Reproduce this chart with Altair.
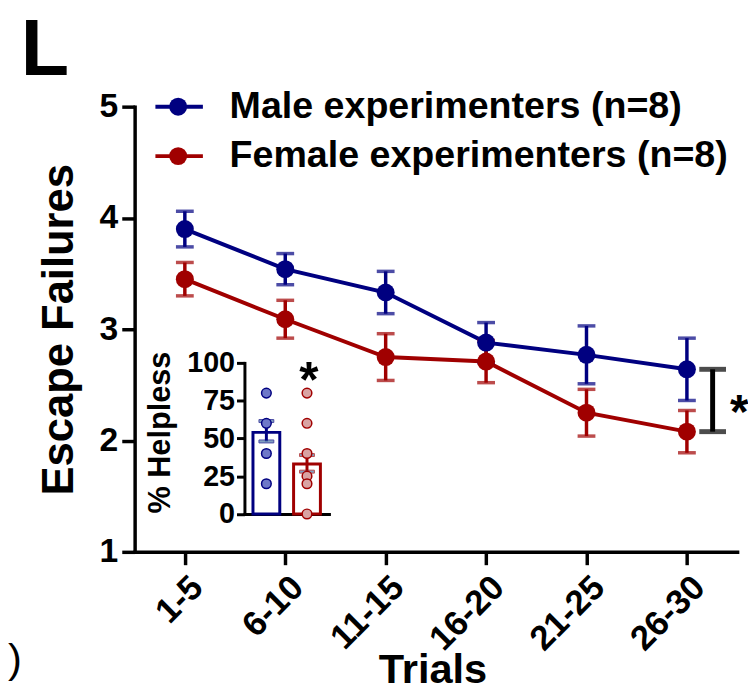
import altair as alt
import pandas as pd

# ---------------- data ----------------
trials = ["1-5", "6-10", "11-15", "16-20", "21-25", "26-30"]
series = ["Male experimenters (n=8)", "Female experimenters (n=8)"]
colors = ["#000080", "#A00000"]

male_mean = [3.90, 3.54, 3.33, 2.88, 2.77, 2.64]
male_sem = [0.16, 0.14, 0.19, 0.18, 0.26, 0.28]
female_mean = [3.45, 3.09, 2.75, 2.71, 2.25, 2.08]
female_sem = [0.15, 0.17, 0.21, 0.19, 0.21, 0.19]

groups = ["Male", "Female"]
helpless_mean = [54, 33]
helpless_lo = [48, 28]
helpless_hi = [61.5, 39]
male_dots = [80, 60, 40, 20]
female_dots = [80, 60, 40, 25, 20, 0]
dot_fills = ["#6E78C8", "#D9A3A3"]

inset_ticks = [0, 25, 50, 75, 100]
main_ticks = [1, 2, 3, 4, 5]
panel_label = "L"
stray_label = ")"

FONT = "Liberation Sans"

# ---------------- frames ----------------
rows = []
for s, means, sems in [(series[0], male_mean, male_sem), (series[1], female_mean, female_sem)]:
    for i, (t, m, e) in enumerate(zip(trials, means, sems)):
        rows.append({"trial": t, "idx": i, "series": s, "mean": m, "lo": m - e, "hi": m + e})
df = pd.DataFrame(rows)

df_br = pd.DataFrame({
    "trial": [trials[-1]],
    "lo": [female_mean[-1]],
    "hi": [male_mean[-1]],
    "mid": [(female_mean[-1] + male_mean[-1]) / 2],
    "star": ["*"],
})

df_bar = pd.DataFrame({"group": groups, "mean": helpless_mean, "lo": helpless_lo, "hi": helpless_hi})
df_dots = pd.DataFrame(
    [{"group": groups[0], "v": v} for v in male_dots] + [{"group": groups[1], "v": v} for v in female_dots]
)
df_inset_star = pd.DataFrame({"group": [groups[1]], "v": [100], "star": ["*"]})

df_leg = pd.DataFrame({"series": series})

# ---------------- main panel ----------------
x_scale = alt.Scale(type="point", domain=trials, padding=0.5)
x_main = alt.X(
    "trial:N",
    scale=x_scale,
    axis=alt.Axis(
        labelAngle=-45, labelAlign="right", labelBaseline="top",
        labelFontSize=35, labelPadding=5,
        tickSize=13, tickWidth=3.5, domainWidth=3.5, domainCap="square",
        title="Trials", titleFontSize=42, titleX=301, titleY=132,
        titleBaseline="alphabetic", titleAlign="center",
    ),
)
y_scale = alt.Scale(domain=[1, 5], nice=False, zero=False)
y_main = alt.Y(
    "mean:Q", scale=y_scale,
    axis=alt.Axis(
        values=main_ticks, format="d", tickSize=13, tickWidth=3.5, domainWidth=3.5,
        domainCap="square", labelFontSize=34, labelPadding=4, grid=False,
        title="Escape Failures", titleFontSize=44, titleX=-63, titleY=225,
        titleBaseline="alphabetic", titleAlign="center", titleAngle=-90,
    ),
)
col = alt.Color("series:N", scale=alt.Scale(domain=series, range=colors), legend=None)

base = alt.Chart(df).encode(x=x_main, color=col)
lines = base.mark_line(strokeWidth=4).encode(y=y_main, order="idx:Q")
err = base.mark_rule(strokeWidth=3.5).encode(y=alt.Y("lo:Q", scale=y_scale), y2="hi:Q")
cap_hi = base.mark_tick(thickness=3.5, size=18, orient="horizontal").encode(y=alt.Y("hi:Q", scale=y_scale))
cap_lo = base.mark_tick(thickness=3.5, size=18, orient="horizontal").encode(y=alt.Y("lo:Q", scale=y_scale))
pts = base.mark_point(filled=True, size=330, opacity=1, shape="circle").encode(y=alt.Y("mean:Q", scale=y_scale))

br = alt.Chart(df_br).encode(x=alt.X("trial:N", scale=x_scale))
br_rule = br.mark_rule(strokeWidth=5, color="black", xOffset=26).encode(
    y=alt.Y("lo:Q", scale=y_scale), y2="hi:Q")
br_cap1 = br.mark_tick(thickness=5, size=27, orient="horizontal", color="black", xOffset=26).encode(
    y=alt.Y("lo:Q", scale=y_scale))
br_cap2 = br.mark_tick(thickness=5, size=27, orient="horizontal", color="black", xOffset=26).encode(
    y=alt.Y("hi:Q", scale=y_scale))
br_star = br.mark_text(font=FONT, fontWeight="bold", fontSize=48, color="black", dx=53, dy=28,
                       baseline="alphabetic").encode(y=alt.Y("mid:Q", scale=y_scale), text="star:N")

main = alt.layer(lines, err, cap_hi, cap_lo, pts, br_rule, br_cap1, br_cap2, br_star)

# ---------------- inset ----------------
ix_scale = alt.Scale(type="band", domain=groups, range=[111, 196.4], paddingInner=0.34, paddingOuter=0.21)
iy_scale = alt.Scale(domain=[0, 100], range=[411.7, 259], nice=False, zero=True)
ix = alt.X("group:N", scale=ix_scale,
           axis=alt.Axis(orient="bottom", offset=-38.3, labels=False, ticks=False, title=None,
                         domainWidth=3, domainCap="square"))
iy = alt.Y("mean:Q", scale=iy_scale,
           axis=alt.Axis(orient="left", offset=-111, values=inset_ticks, tickSize=8, tickWidth=3,
                         domainWidth=3, domainCap="square", labelFontSize=29, labelPadding=2, grid=False,
                         title="% Helpless", titleFontSize=31, titleX=-76, titleY=329,
                         titleBaseline="alphabetic", titleAlign="center", titleAngle=-90))
istroke = alt.Stroke("group:N", scale=alt.Scale(domain=groups, range=colors), legend=None)

bars = alt.Chart(df_bar).mark_bar(fill="white", strokeWidth=3).encode(x=ix, y=iy, stroke=istroke)
ierr = alt.Chart(df_bar).mark_rule(strokeWidth=3).encode(
    x=alt.X("group:N", scale=ix_scale), y=alt.Y("lo:Q", scale=iy_scale), y2="hi:Q", stroke=istroke)
icap1 = alt.Chart(df_bar).mark_tick(thickness=3, size=15, orient="horizontal").encode(
    x=alt.X("group:N", scale=ix_scale), y=alt.Y("lo:Q", scale=iy_scale), stroke=istroke)
icap2 = alt.Chart(df_bar).mark_tick(thickness=3, size=15, orient="horizontal").encode(
    x=alt.X("group:N", scale=ix_scale), y=alt.Y("hi:Q", scale=iy_scale), stroke=istroke)
idots = alt.Chart(df_dots).mark_point(shape="circle", size=95, strokeWidth=1.5, filled=False, fillOpacity=1).encode(
    x=alt.X("group:N", scale=ix_scale), y=alt.Y("v:Q", scale=iy_scale), stroke=istroke,
    fill=alt.Fill("group:N", scale=alt.Scale(domain=groups, range=dot_fills), legend=None))
istar = alt.Chart(df_inset_star).mark_text(font=FONT, fontWeight="bold", fontSize=50, color="black",
                                            dx=2, dy=34, baseline="alphabetic").encode(
    x=alt.X("group:N", scale=ix_scale), y=alt.Y("v:Q", scale=iy_scale), text="star:N")

inset = alt.layer(bars, ierr, icap1, icap2, idots, istar)

# ---------------- legend ----------------
ly = alt.Y("series:N", scale=alt.Scale(type="point", domain=series, range=[0, 50], padding=0), axis=None)
lbase = alt.Chart(df_leg).encode(y=ly)
leg_line = lbase.mark_rule(strokeWidth=4).encode(x=alt.value(21), x2=alt.value(69), color=col)
leg_pt = lbase.mark_point(filled=True, size=330, opacity=1, shape="circle").encode(x=alt.value(44), color=col)
leg_txt = lbase.mark_text(font=FONT, fontWeight="bold", fontSize=38, color="black", align="left",
                          baseline="middle").encode(x=alt.value(96), text="series:N")
legend = alt.layer(leg_line, leg_pt, leg_txt)

# ---------------- stray labels ----------------
lab = alt.Chart(pd.DataFrame({"t": [panel_label]})).mark_text(
    font=FONT, fontWeight="bold", fontSize=80, color="black", align="left", baseline="alphabetic"
).encode(x=alt.value(-115), y=alt.value(-32), text="t:N")
lab2 = alt.Chart(pd.DataFrame({"t": [stray_label]})).mark_text(
    font=FONT, fontWeight="normal", fontSize=42, color="black", align="left", baseline="alphabetic"
).encode(x=alt.value(-128), y=alt.value(572), text="t:N")

chart = alt.layer(main, inset, legend, lab, lab2).resolve_scale(
    x="independent", y="independent"
).properties(
    width=609, height=450,
    padding={"left": 128, "top": 96, "right": 11, "bottom": 142},
    autosize=alt.AutoSizeParams(type="none"),
).configure_view(stroke=None).configure_axis(
    labelFont=FONT, titleFont=FONT, labelFontWeight="bold", titleFontWeight="bold",
    labelColor="black", titleColor="black", domainColor="black", tickColor="black",
)

chart.save("out.html", embed_options={"renderer": "svg", "actions": False})
